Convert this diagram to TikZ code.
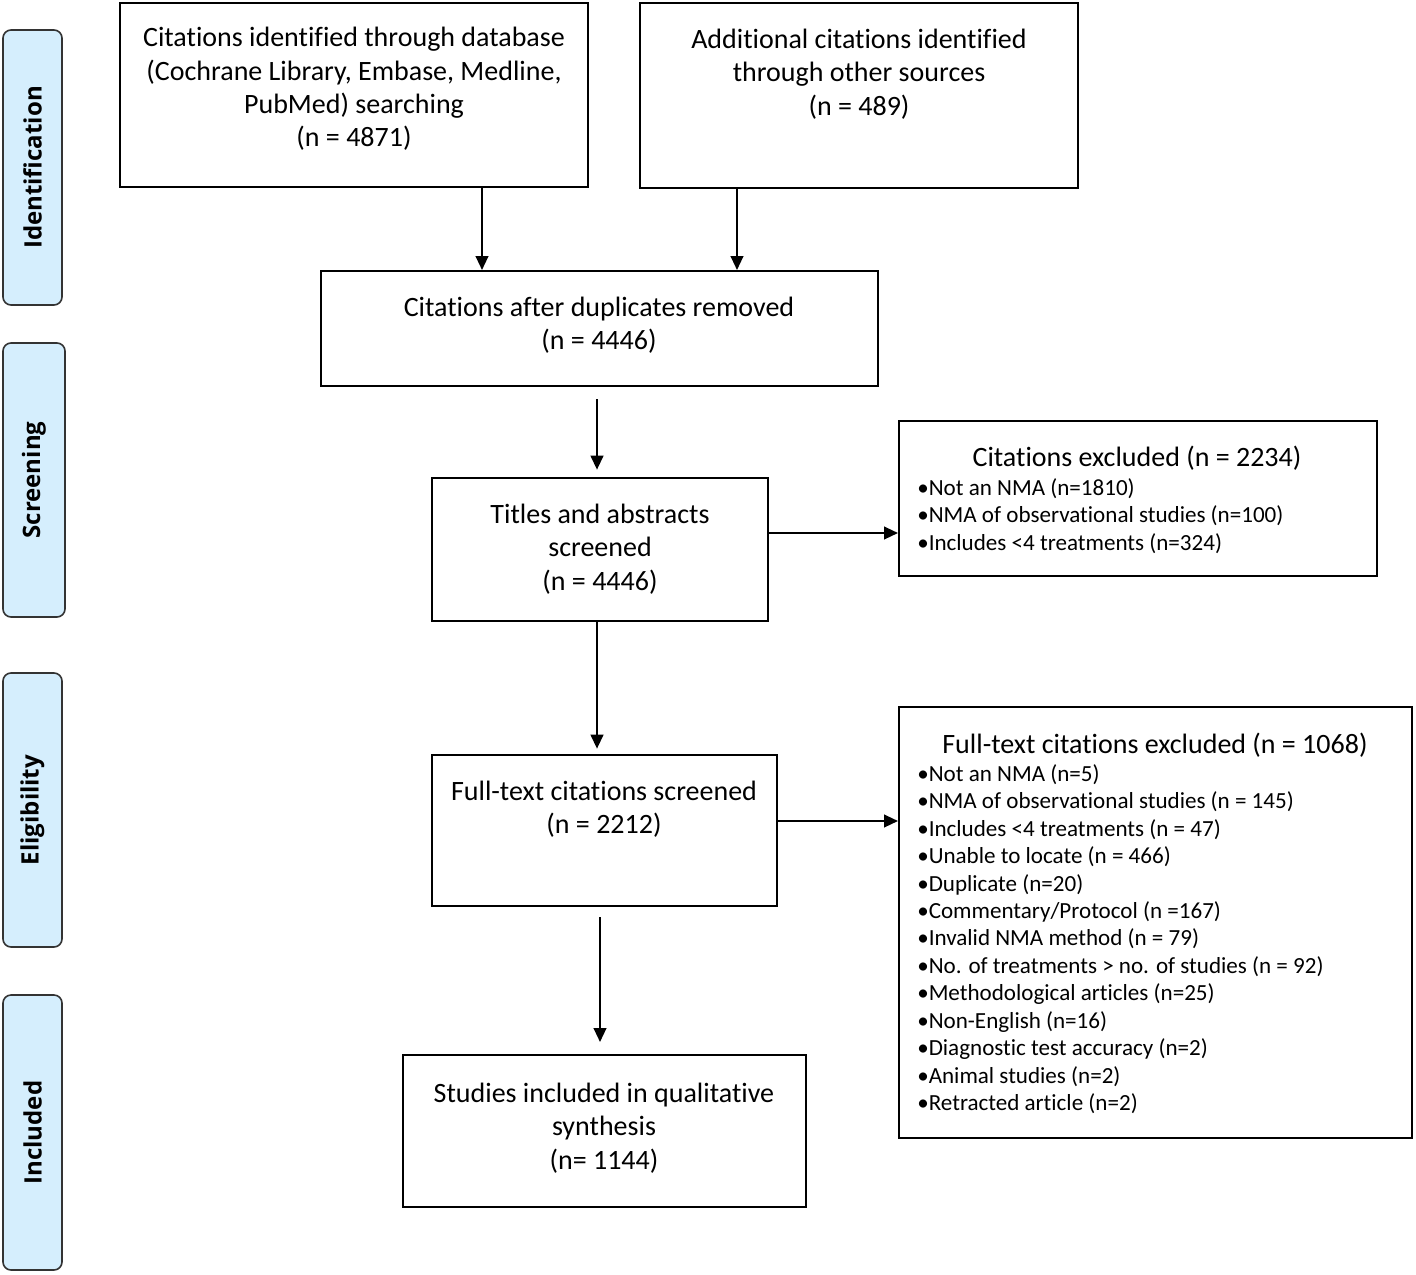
\documentclass[tikz,border=0pt]{standalone}
\usepackage{fontspec}
\setmainfont[Ligatures=NoCommon]{Carlito}
\newfontfamily\sidefont{Open Sans}
\usetikzlibrary{arrows.meta,fit}
\begin{document}
\begin{tikzpicture}[x=0.75pt,y=-0.75pt,
  box/.style={draw=black,line width=1.5pt,inner sep=0pt},
  side/.style={draw=black!80,line width=1.2pt,fill=sideblue,rounded corners=6pt,inner sep=0pt},
  sidetxt/.style={rotate=90,font=\sidefont\fontsize{18}{22}\selectfont\bfseries},
  txt/.style={align=center,font=\fontsize{21}{25.1}\selectfont,inner sep=0pt},
  ttl/.style={anchor=base,font=\fontsize{21}{25.1}\selectfont,inner sep=0pt},
  blist/.style={align=left,anchor=north west,font=\fontsize{17.3}{20.6}\selectfont,inner sep=0pt},
  arr/.style={line width=1.6pt,-{Triangle[length=10.5pt,width=9.5pt]}}]
\definecolor{sideblue}{HTML}{D5EEFD}
\useasboundingbox (0,0) rectangle (1416,1274);
% side labels
\node[side,fit={(3,30) (62,305)}] (S1) {};
\node[sidetxt] (S1t) at (S1.center) {Identification};
\node[side,fit={(3,343) (65,617)}] (S2) {};
\node[sidetxt] (S2t) at (S2.center) {Screening};
\node[side,fit={(3,673) (62,947)}] (S3) {};
\node[sidetxt] (S3t) at (S3.center) {Eligibility};
\node[side,fit={(3,995) (62,1270)}] (S4) {};
\node[sidetxt] (S4t) at (S4.center) {Included};
% main boxes
\node[box,fit={(120,3) (588,187)}] (A) {};
\node[txt] (At) at (354,89) {Citations identified through database\\(Cochrane Library, Embase, Medline,\\PubMed) searching\\(n = 4871)};
\node[box,fit={(640,3) (1078,188)}] (B) {};
\node[txt] (Bt) at (859,74) {Additional citations identified\\through other sources\\(n = 489)};
\node[box,fit={(321,271) (878,386)}] (C) {};
\node[txt] (Ct) at (599,325) {Citations after duplicates removed\\(n = 4446)};
\node[box,fit={(432,478) (768,621)}] (D) {};
\node[txt] (Dt) at (600,549) {Titles and abstracts\\screened\\(n = 4446)};
\node[box,fit={(899,421) (1377,576)}] (E) {};
\node[ttl] (Et) at (1137,466) {Citations excluded (n = 2234)};
\node[blist] (El) at (917,478) {•Not an NMA (n=1810)\\•NMA of observational studies (n=100)\\•Includes <4 treatments (n=324)};
\node[box,fit={(432,755) (777,906)}] (F) {};
\node[txt] (Ft) at (604,809) {Full-text citations screened\\(n = 2212)};
\node[box,fit={(899,707) (1412,1138)}] (G) {};
\node[ttl] (Gt) at (1155,753) {Full-text citations excluded (n = 1068)};
\node[blist] (Gl) at (917,764) {•Not an NMA (n=5)\\•NMA of observational studies (n = 145)\\•Includes <4 treatments (n = 47)\\•Unable to locate (n = 466)\\•Duplicate (n=20)\\•Commentary/Protocol (n =167)\\•Invalid NMA method (n = 79)\\•No. of treatments > no. of studies (n = 92)\\•Methodological articles (n=25)\\•Non-English (n=16)\\•Diagnostic test accuracy (n=2)\\•Animal studies (n=2)\\•Retracted article (n=2)};
\node[box,fit={(403,1055) (806,1207)}] (H) {};
\node[txt] (Ht) at (604,1128) {Studies included in qualitative\\synthesis\\(n= 1144)};
% connectors
\coordinate (xa) at (482,0);
\coordinate (xb) at (737,0);
\coordinate (c1) at (597,399);
\draw[arr] (A.south -| xa) -- (C.north -| xa);
\draw[arr] (B.south -| xb) -- (C.north -| xb);
\draw[arr,shorten >=5.5pt] (c1) -- (D.north -| c1);
\draw[arr,shorten >=4pt] (D.south -| c1) -- (F.north -| c1);
\coordinate (f1) at (600,917);
\draw[arr,shorten >=9pt] (f1) -- (H.north -| f1);
\coordinate (yd) at (0,533);
\draw[arr] (D.east |- yd) -- (E.west |- yd);
\coordinate (yf) at (0,821);
\draw[arr] (F.east |- yf) -- (G.west |- yf);
\end{tikzpicture}
\end{document}
